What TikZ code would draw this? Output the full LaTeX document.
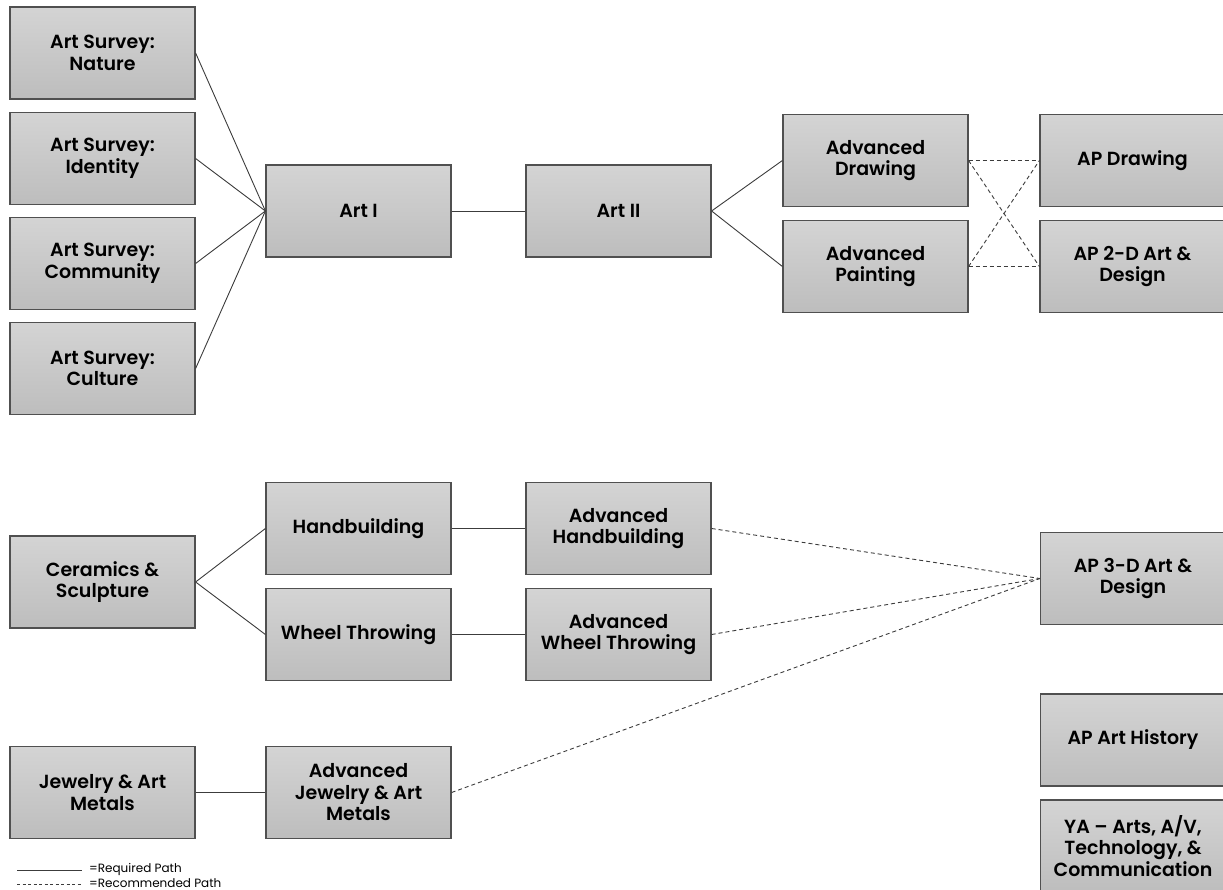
\documentclass[tikz,border=0pt]{standalone}
\usepackage{fontspec}
\setmainfont{Poppins}[BoldFont={Poppins SemiBold}]
\definecolor{boxtop}{HTML}{D4D4D4}
\definecolor{boxbot}{HTML}{BDBDBD}
\definecolor{boxline}{HTML}{505050}
\definecolor{conn}{HTML}{3C3C3C}
\tikzset{
  course/.style={draw=boxline, line width=1.2pt, top color=boxtop, bottom color=boxbot,
    minimum width=185pt, minimum height=92pt, inner sep=0pt, align=center,
    font=\fontsize{19}{21.5}\selectfont\bfseries, text=black},
  req/.style={draw=conn, line width=0.9pt},
  rec/.style={draw=conn, line width=0.9pt, dash pattern=on 4pt off 3pt},
  legend/.style={font=\fontsize{12}{13}\selectfont, anchor=west, inner sep=0pt, text=black}
}
\begin{document}
\begin{tikzpicture}[x=1pt, y=-1pt]
\useasboundingbox (0,0) rectangle (1223,890);
% 2-D track
\node[course] (nature) at (102.5,53) {Art Survey:\\Nature};
\node[course] (identity) at (102.5,158.5) {Art Survey:\\Identity};
\node[course] (community) at (102.5,263.5) {Art Survey:\\Community};
\node[course] (culture) at (102.5,368.5) {Art Survey:\\Culture};
\node[course] (art1) at (358.5,211) {Art I};
\node[course] (art2) at (618.5,211) {Art II};
\node[course] (advdraw) at (875.5,160.5) {Advanced\\Drawing};
\node[course] (advpaint) at (875.5,266.5) {Advanced\\Painting};
\node[course] (apdraw) at (1132.5,160.5) {AP Drawing};
\node[course] (ap2d) at (1132.5,266.5) {AP 2-D Art \&\\Design};
% 3-D track
\node[course] (ceramics) at (102.5,582) {Ceramics \&\\Sculpture};
\node[course] (hand) at (358.5,528.5) {Handbuilding};
\node[course] (wheel) at (358.5,634.5) {Wheel Throwing};
\node[course] (advhand) at (618.5,528.5) {Advanced\\Handbuilding};
\node[course] (advwheel) at (618.5,634.5) {Advanced\\Wheel Throwing};
\node[course] (ap3d) at (1133,578.5) {AP 3-D Art \&\\Design};
\node[course] (jewelry) at (102.5,792.5) {Jewelry \& Art\\Metals};
\node[course] (advjewel) at (358.5,792.5) {Advanced\\Jewelry \& Art\\Metals};
\node[course] (aphist) at (1133,740) {AP Art History};
\node[course] (ya) at (1133,846) {YA -- Arts, A/V,\\Technology, \&\\Communication};
% required paths
\draw[req] (nature.east) -- (art1.west);
\draw[req] (identity.east) -- (art1.west);
\draw[req] (community.east) -- (art1.west);
\draw[req] (culture.east) -- (art1.west);
\draw[req] (art1) -- (art2);
\draw[req] (art2.east) -- (advdraw.west);
\draw[req] (art2.east) -- (advpaint.west);
\draw[req] (ceramics.east) -- (hand.west);
\draw[req] (ceramics.east) -- (wheel.west);
\draw[req] (hand) -- (advhand);
\draw[req] (wheel) -- (advwheel);
\draw[req] (jewelry) -- (advjewel);
% recommended paths
\draw[rec] (advdraw.east) -- (apdraw.west);
\draw[rec] (advdraw.east) -- (ap2d.west);
\draw[rec] (advpaint.east) -- (apdraw.west);
\draw[rec] (advpaint.east) -- (ap2d.west);
\draw[rec] (advhand.east) -- (ap3d.west);
\draw[rec] (advwheel.east) -- (ap3d.west);
\draw[rec] (advjewel.east) -- (ap3d.west);
% legend
\coordinate (l1a) at (17,870);
\coordinate (l1b) at (82,870);
\coordinate (l2a) at (17,884);
\coordinate (l2b) at (82,884);
\draw[conn, line width=0.7pt] (l1a) -- (l1b);
\draw[conn, line width=0.7pt, dash pattern=on 3pt off 2.5pt] (l2a) -- (l2b);
\node[legend] (lreq) at (89,869.5) {=Required Path};
\node[legend] (lrec) at (89,883.5) {=Recommended Path};
\end{tikzpicture}
\end{document}
